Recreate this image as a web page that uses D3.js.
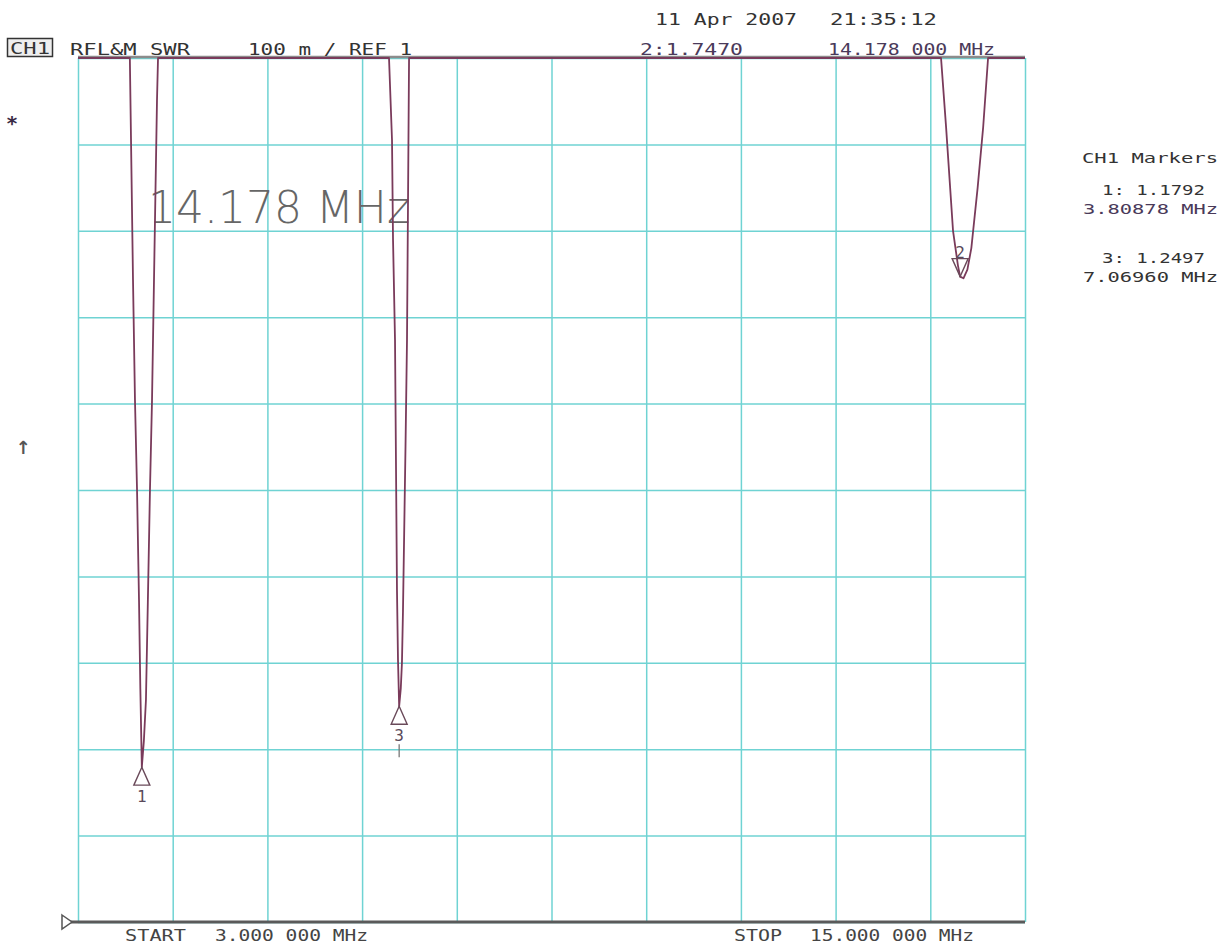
<!DOCTYPE html>
<html><head><meta charset="utf-8">
<script src="https://cdn.jsdelivr.net/npm/d3@7"></script>
<style>
html,body{margin:0;padding:0;background:#fff;}
svg{display:block;}
.mono{font-family:"DejaVu Sans Mono",monospace;}
</style></head>
<body>
<script>
// ---- data ----
const startFreq = 3.0, stopFreq = 15.0;       // MHz
const refSwr = 1.0, topSwr = 2.0;             // 100 m / div, REF 1
const gridFreqs = [3.0, 4.2, 5.4, 6.6, 7.8, 9.0, 10.2, 11.4, 12.6, 13.8, 15.0];
const gridSwr = [1.0, 1.1, 1.2, 1.3, 1.4, 1.5, 1.6, 1.7, 1.8, 1.9, 2.0];
// trace (values above 2.0 are off-screen and drawn clipped at top)
const traceFreq = [3.0, 3.64, 3.657, 3.697, 3.722, 3.748, 3.773, 3.79, 3.80878, 3.835, 3.861, 3.885, 3.912, 3.938, 3.963, 4.001, 4.014, 4.03,
  5.5, 6.93, 6.941, 6.979, 6.992, 7.017, 7.042, 7.055, 7.0696, 7.09, 7.105, 7.118, 7.15, 7.169, 7.182, 7.195, 7.21,
  10.0, 13.92, 13.936, 14.0, 14.088, 14.15, 14.178, 14.22, 14.27, 14.32, 14.40, 14.47, 14.532, 14.55, 15.0];
const traceSwr = [2.3, 2.2, 2.0, 1.743, 1.604, 1.5, 1.373, 1.27, 1.1792, 1.21, 1.257, 1.37, 1.5, 1.604, 1.743, 1.951, 2.0, 2.2,
  2.5, 2.2, 2.0, 1.905, 1.789, 1.674, 1.384, 1.303, 1.2497, 1.27, 1.30, 1.36, 1.55, 1.674, 1.836, 2.0, 2.2,
  2.5, 2.2, 2.0, 1.92, 1.80, 1.76, 1.747, 1.745, 1.755, 1.78, 1.85, 1.92, 2.0, 2.2, 2.4];
const markerIds = [1, 2, 3];
const markerFreq = [3.80878, 14.178, 7.0696];
const markerSwr = [1.1792, 1.7470, 1.2497];
const markerDown = [false, true, false];

// ---- layout ----
const W = 1228, H = 945;
const svg = d3.select("body").append("svg").attr("width", W).attr("height", H);
const x = d3.scaleLinear().domain([startFreq, stopFreq]).range([78, 1025]);
const y = d3.scaleLinear().domain([refSwr, topSwr]).range([922, 58]).clamp(true);

// grid via axes
const gridColor = "#6fd3d3";
const gx = svg.append("g").attr("transform", "translate(0,922)")
  .call(d3.axisBottom(x).tickValues(gridFreqs).tickSize(-(922 - 58)).tickFormat(""));
const gy = svg.append("g").attr("transform", "translate(78,0)")
  .call(d3.axisLeft(y).tickValues(gridSwr).tickSize(-(1025 - 78)).tickFormat(""));
[gx, gy].forEach(g => {
  g.select(".domain").remove();
  g.selectAll(".tick line").attr("stroke", gridColor).attr("stroke-width", 1.5);
});

// top frame line (grey) and reference line (bottom)
svg.append("line").attr("x1", x(startFreq)).attr("x2", x(stopFreq)).attr("y1", y(topSwr) - 1).attr("y2", y(topSwr) - 1)
  .attr("stroke", "#8c8c8c").attr("stroke-width", 2.5);
svg.append("line").attr("x1", 70).attr("x2", x(stopFreq)).attr("y1", y(refSwr)).attr("y2", y(refSwr))
  .attr("stroke", "#5a5a5a").attr("stroke-width", 3);
// reference pointer
svg.append("path").attr("d", `M62,${y(refSwr)-7} L72,${y(refSwr)} L62,${y(refSwr)+7} Z`)
  .attr("fill", "#fff").attr("stroke", "#555").attr("stroke-width", 1.5);

// big marker freq annotation
svg.append("text").attr("x", 148).attr("y", 223).text("14.178 MHz")
  .attr("font-family", "DejaVu Sans").attr("font-weight", 200).attr("font-size", 44)
  .attr("fill", "#666").attr("textLength", 262).attr("lengthAdjust", "spacingAndGlyphs");

// trace
const pts = traceFreq.map((f, i) => ({f, s: traceSwr[i]}));
svg.append("path").datum(pts)
  .attr("d", d3.line().x(d => x(d.f)).y(d => y(d.s)))
  .attr("fill", "none").attr("stroke", "#7a3b5b").attr("stroke-width", 1.8).attr("stroke-linejoin", "round");

// markers
markerIds.forEach((id, i) => {
  const mx = x(markerFreq[i]), my = y(markerSwr[i]);
  const dir = markerDown[i] ? -1 : 1;
  svg.append("path")
    .attr("d", `M${mx},${my} L${mx - 8},${my + dir * 18} L${mx + 8},${my + dir * 18} Z`)
    .attr("fill", "none").attr("stroke", "#6a4a5a").attr("stroke-width", 1.4);
  svg.append("text").attr("class", "mono").attr("x", mx).attr("y", markerDown[i] ? my - 19 : my + 35)
    .attr("text-anchor", "middle").attr("font-size", 16).attr("fill", "#5a4a5a").text(id);
  if (id === 3) {
    svg.append("line").attr("x1", mx).attr("x2", mx).attr("y1", my + 38).attr("y2", my + 51)
      .attr("stroke", "#777").attr("stroke-width", 1.3);
  }
});

// header texts
function t(str, x0, x1, yb, size, fill) {
  svg.append("text").attr("class", "mono").attr("x", x0).attr("y", yb).text(str)
    .attr("font-size", size).attr("fill", fill || "#333")
    .attr("textLength", x1 - x0).attr("lengthAdjust", "spacingAndGlyphs");
}
svg.append("rect").attr("x", 7.5).attr("y", 38.5).attr("width", 45).attr("height", 18)
  .attr("fill", "#eee").attr("stroke", "#333").attr("stroke-width", 1.5);
t("CH1", 10, 50, 54, 15);
t("RFL&M SWR", 70, 190, 55, 15);
t("100 m / REF 1", 248, 412, 55, 15);
t("11 Apr 2007", 655, 797, 25, 15);
t("21:35:12", 830, 937, 25, 15);
t("2:1.7470", 640, 743, 55, 15, "#4a3a5a");
t("14.178 000 MHz", 828, 995, 55, 15, "#4a3a5a");
t("CH1 Markers", 1082, 1218, 163, 14);
t("1: 1.1792", 1102, 1205, 195, 14);
t("3.80878 MHz", 1083, 1218, 214, 14, "#4a3a5a");
t("3: 1.2497", 1102, 1205, 263, 14);
t("7.06960 MHz", 1083, 1218, 282, 14);
t("START", 125, 186, 941, 15, "#444");
t("3.000 000 MHz", 215, 368, 941, 15, "#444");
t("STOP", 734, 782, 941, 15, "#444");
t("15.000 000 MHz", 810, 974, 941, 15, "#444");
svg.append("text").attr("class", "mono").attr("x", 12).attr("y", 130).attr("text-anchor", "middle")
  .attr("font-size", 20).attr("font-weight", "bold").attr("fill", "#3a2a45").text("*");
svg.append("text").attr("x", 23).attr("y", 454).attr("text-anchor", "middle")
  .attr("font-family", "DejaVu Sans").attr("font-size", 18).attr("font-weight", "bold").attr("fill", "#555").text("↑");
</script>
</body></html>
